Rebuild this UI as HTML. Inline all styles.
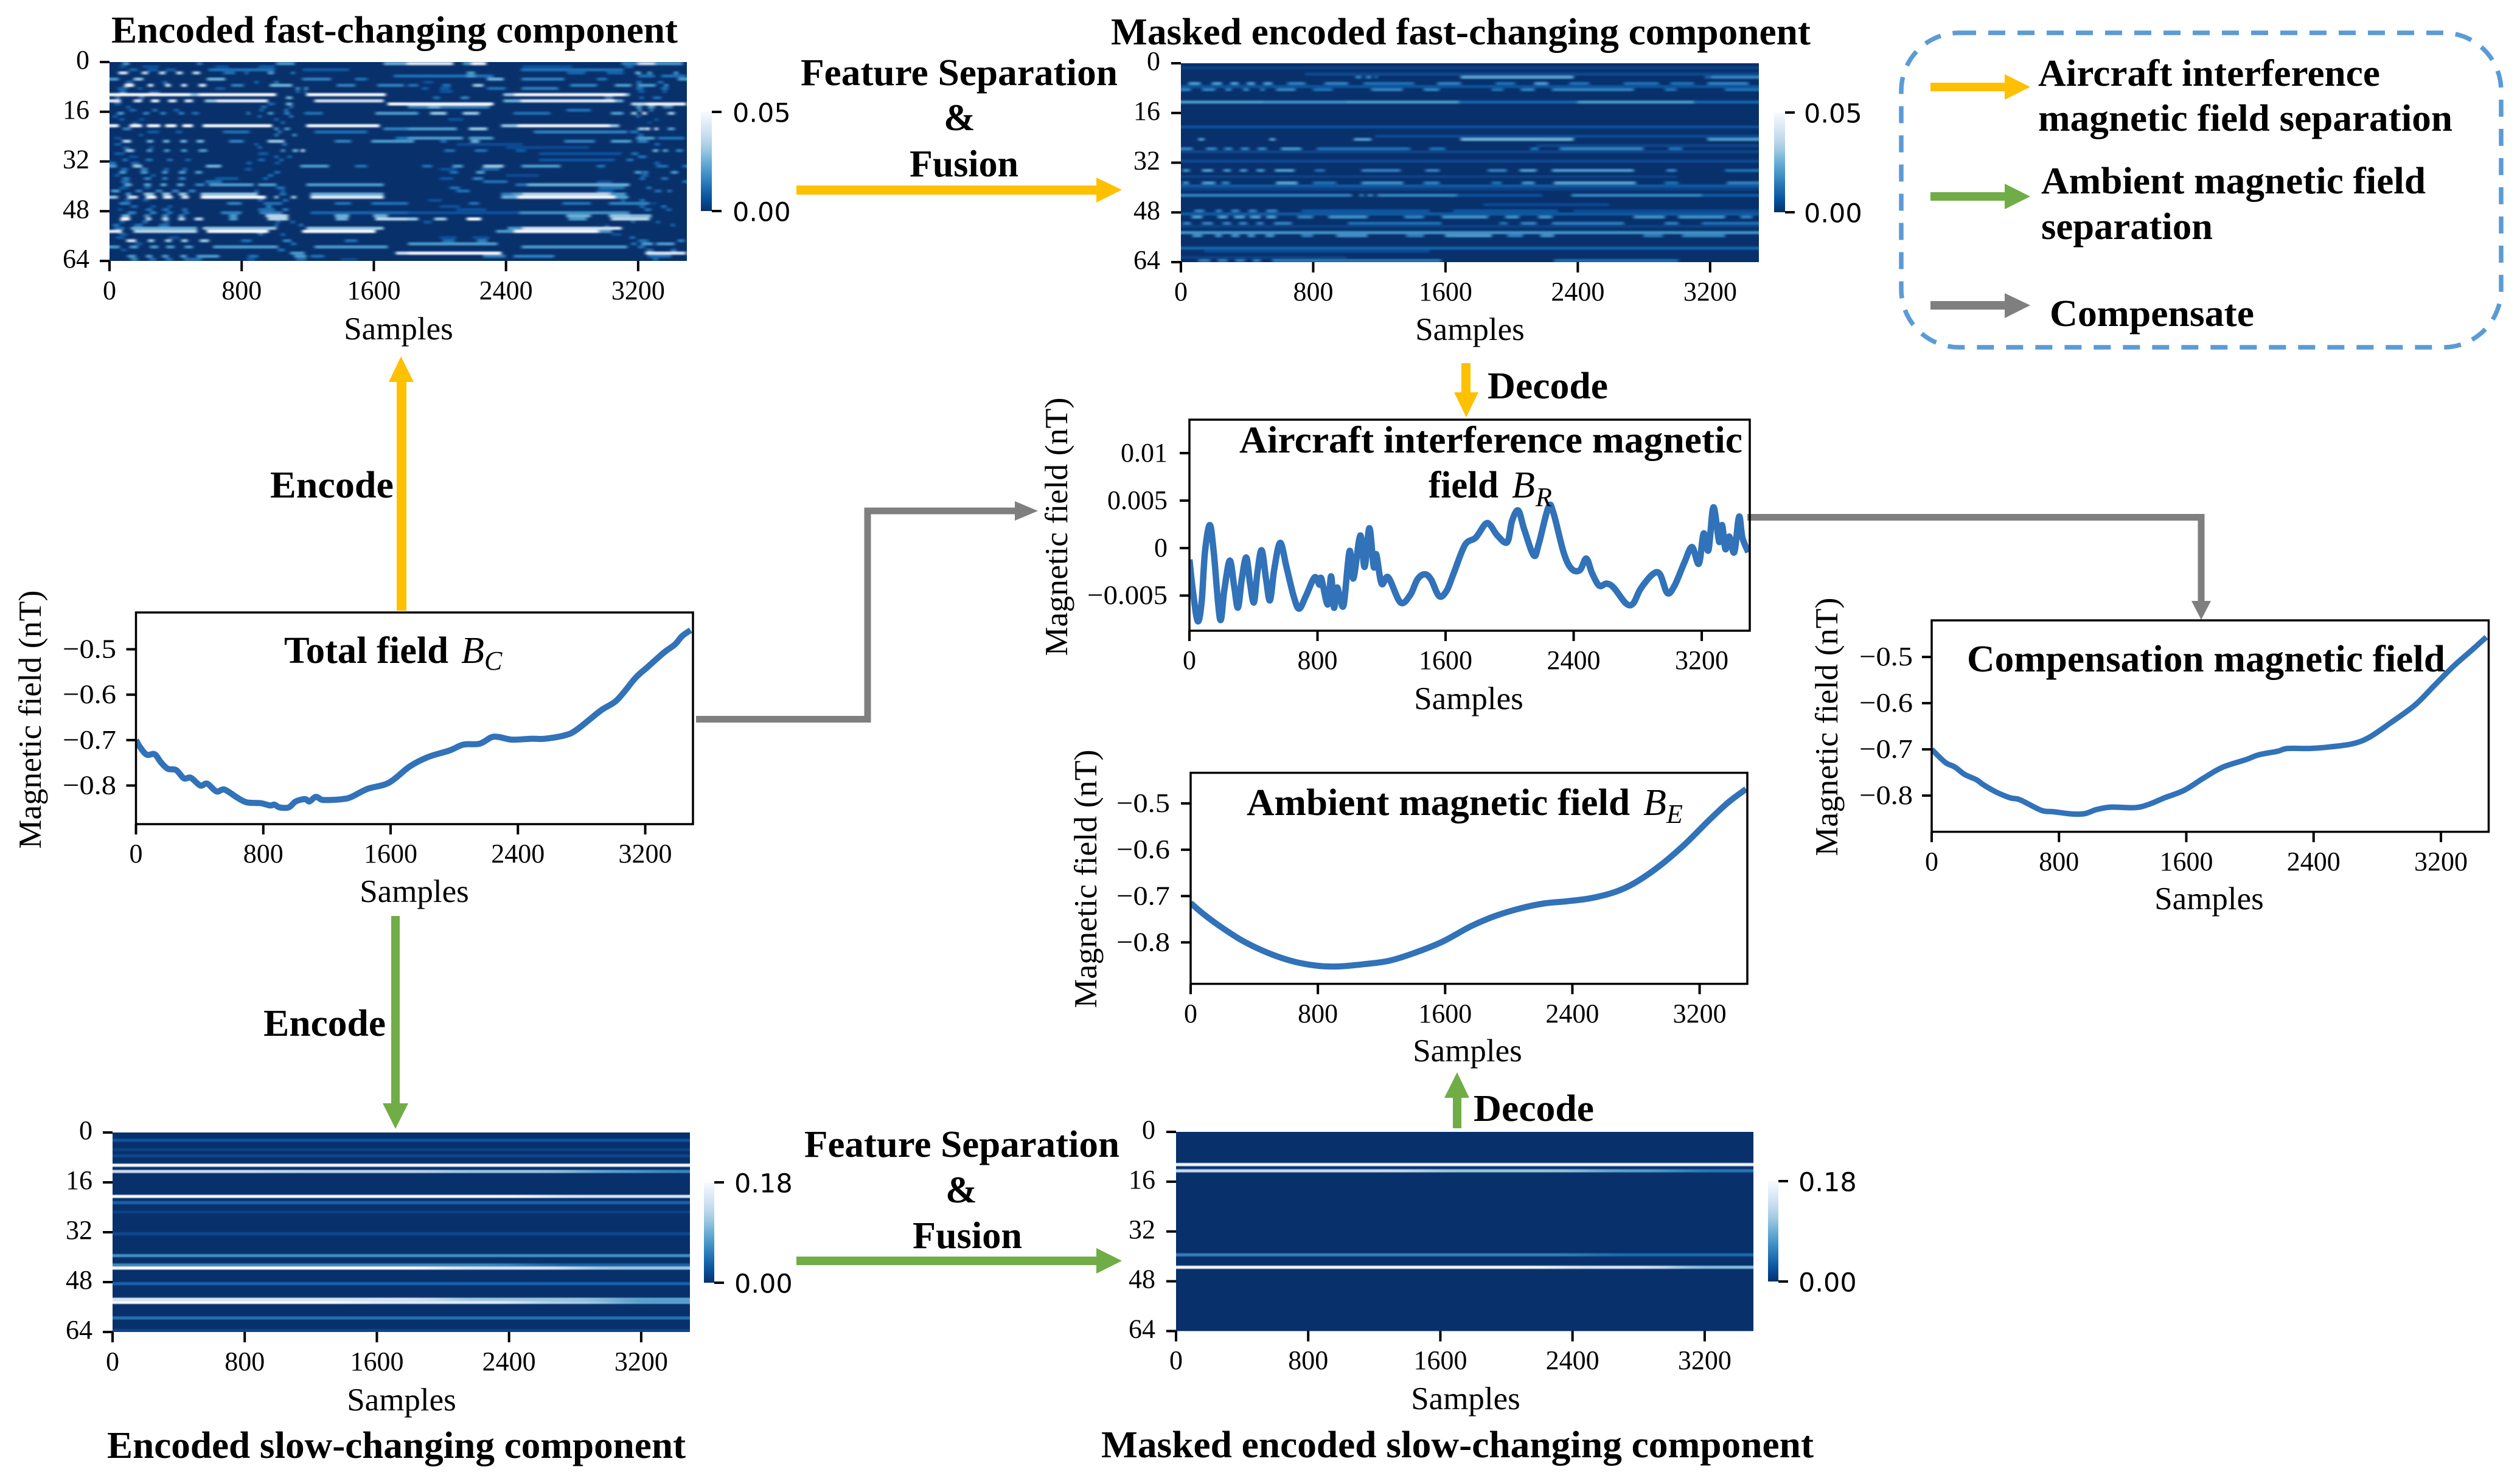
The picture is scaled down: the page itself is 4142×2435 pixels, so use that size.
<!DOCTYPE html>
<html lang="en">
<head>
<meta charset="utf-8">
<title>Magnetic field separation diagram</title>
<style>
html,body{margin:0;padding:0;background:#fff;}
svg{display:block;}
text{font-family:"Liberation Serif",serif;fill:#000;}
.t{font-weight:bold;font-size:62px;}
.lab{font-size:53px;}
.tick{font-size:44px;}
.cb{font-size:43px;font-family:"DejaVu Sans",sans-serif;}
.i{font-style:italic;font-size:62px;}
.sub{font-style:italic;font-size:44px;}
</style>
</head>
<body>
<svg id="fig" xmlns="http://www.w3.org/2000/svg" width="4142" height="2435" viewBox="0 0 4142 2435">
<defs>
<filter id="soft" filterUnits="userSpaceOnUse" x="0" y="0" width="4142" height="2435"><feGaussianBlur stdDeviation="3 1.2"/></filter>
<filter id="softwide" filterUnits="userSpaceOnUse" x="0" y="0" width="4142" height="2435"><feGaussianBlur stdDeviation="34 0.9"/></filter>
</defs>
<rect width="4142" height="2435" fill="#fff"/>

<!-- Headings -->
<text class="t" x="183" y="70" textLength="931" lengthAdjust="spacingAndGlyphs">Encoded fast-changing component</text>
<text class="t" x="1826" y="73" textLength="1150" lengthAdjust="spacingAndGlyphs">Masked encoded fast-changing component</text>
<text class="t" x="176" y="2397" textLength="951" lengthAdjust="spacingAndGlyphs">Encoded slow-changing component</text>
<text class="t" x="1810" y="2396" textLength="1171" lengthAdjust="spacingAndGlyphs">Masked encoded slow-changing component</text>

<!-- Process labels -->
<text class="t" x="1316" y="140" textLength="521" lengthAdjust="spacingAndGlyphs">Feature Separation</text>
<text class="t" x="1577" y="214" text-anchor="middle">&amp;</text>
<text class="t" x="1495" y="290" textLength="179" lengthAdjust="spacingAndGlyphs">Fusion</text>
<text class="t" x="1322" y="1902" textLength="518" lengthAdjust="spacingAndGlyphs">Feature Separation</text>
<text class="t" x="1580" y="1977" text-anchor="middle">&amp;</text>
<text class="t" x="1500" y="2052" textLength="180" lengthAdjust="spacingAndGlyphs">Fusion</text>
<text class="t" x="444" y="818" textLength="203" lengthAdjust="spacingAndGlyphs">Encode</text>
<text class="t" x="433" y="1703" textLength="201" lengthAdjust="spacingAndGlyphs">Encode</text>
<text class="t" x="2445" y="655" textLength="198" lengthAdjust="spacingAndGlyphs">Decode</text>
<text class="t" x="2422" y="1843" textLength="198" lengthAdjust="spacingAndGlyphs">Decode</text>

<!-- Flow arrows -->
<polygon fill="#FFC000" points="1309,305 1802,305 1802,292 1844,312 1802,333 1802,320 1309,320"/>
<polygon fill="#70AD47" points="1309,2066 1802,2066 1802,2052 1844,2073 1802,2094 1802,2080 1309,2080"/>
<polygon fill="#FFC000" points="652,1004 652,628 639,628 659,586 680,628 668,628 668,1004"/>
<polygon fill="#70AD47" points="643,1506 657,1506 657,1814 671,1814 650,1856 629,1814 643,1814"/>
<polygon fill="#FFC000" points="2402,597 2417,597 2417,645 2430,645 2410,686 2390,645 2402,645"/>
<polygon fill="#70AD47" points="2388,1855 2388,1805 2374,1805 2395,1763 2415,1805 2402,1805 2402,1855"/>
<polyline fill="none" stroke="#7F7F7F" stroke-width="11" points="1144,1182.5 1426,1182.5 1426,840 1670,840"/>
<polygon fill="#7F7F7F" points="1668,824 1706,840 1668,856"/>
<polyline fill="none" stroke="#7F7F7F" stroke-width="11" points="2872,850.5 3618,850.5 3618,990"/>
<polygon fill="#7F7F7F" points="3602,988 3634,988 3618,1019"/>

<!-- Legend -->
<rect x="3125" y="54" width="986" height="517" rx="95" ry="95" fill="none" stroke="#5B9BD5" stroke-width="7.5" stroke-dasharray="28 20"/>
<polygon fill="#FFC000" points="3173,136 3295,136 3295,122 3337,143 3295,164 3295,150 3173,150"/>
<polygon fill="#70AD47" points="3173,316 3295,316 3295,302 3337,323 3295,344 3295,330 3173,330"/>
<polygon fill="#7F7F7F" points="3173,495 3295,495 3295,482 3337,502 3295,523 3295,509 3173,509"/>
<text class="t" x="3350" y="141" textLength="562" lengthAdjust="spacingAndGlyphs">Aircraft interference</text>
<text class="t" x="3350" y="215" textLength="681" lengthAdjust="spacingAndGlyphs">magnetic field separation</text>
<text class="t" x="3355" y="318" textLength="632" lengthAdjust="spacingAndGlyphs">Ambient magnetic field</text>
<text class="t" x="3355" y="393" textLength="282" lengthAdjust="spacingAndGlyphs">separation</text>
<text class="t" x="3369" y="536" textLength="336" lengthAdjust="spacingAndGlyphs">Compensate</text>

<g id="charts"></g>

<!-- Titles inside line panels -->
<text class="t" x="467" y="1090" textLength="270" lengthAdjust="spacingAndGlyphs">Total field</text>
<text class="i" x="758" y="1090">B</text>
<text class="sub" x="796" y="1101">C</text>
<text class="t" x="2037" y="744" textLength="827" lengthAdjust="spacingAndGlyphs">Aircraft interference magnetic</text>
<text class="t" x="2348" y="818" textLength="115" lengthAdjust="spacingAndGlyphs">field</text>
<text class="i" x="2485" y="818">B</text>
<text class="sub" x="2524" y="832">R</text>
<text class="t" x="2049" y="1340" textLength="630" lengthAdjust="spacingAndGlyphs">Ambient magnetic field</text>
<text class="i" x="2701" y="1340">B</text>
<text class="sub" x="2739" y="1353">E</text>
<text class="t" x="3233" y="1104" textLength="786" lengthAdjust="spacingAndGlyphs">Compensation magnetic field</text>
</svg>

<script>
// ---- axis data ----
const sampleTicks = [0, 800, 1600, 2400, 3200];
const rowTicks = [0, 16, 32, 48, 64];
const fieldTicks = [-0.5, -0.6, -0.7, -0.8];
const fieldTickLabels = ['\u22120.5', '\u22120.6', '\u22120.7', '\u22120.8'];
const aircraftTicks = [0.01, 0.005, 0, -0.005];
const aircraftTickLabels = ['0.01', '0.005', '0', '\u22120.005'];
const fastRange = [0, 0.05];
const fastRangeLabels = ['0.00', '0.05'];
const slowRange = [0, 0.18];
const slowRangeLabels = ['0.00', '0.18'];
const bluesReversed = ['#08306b', '#08519c', '#2171b5', '#4292c6', '#6baed6', '#9ecae1', '#c6dbef', '#deebf7', '#f7fbff'];

// ---- line series ----
const totalSamples = [0,23,67,117,155,199,252,301,345,404,448,506,556,638,696,784,843,870,901,960,1004,1062,1090,1129,1165,1194,1296,1354,1457,1589,1720,1837,1969,2057,2159,2232,2276,2364,2481,2569,2700,2774,2920,3022,3139,3212,3285,3329,3388,3432,3485];
const totalValues = [-0.700,-0.714,-0.732,-0.731,-0.748,-0.763,-0.766,-0.784,-0.783,-0.800,-0.796,-0.813,-0.809,-0.827,-0.837,-0.839,-0.844,-0.842,-0.848,-0.848,-0.835,-0.830,-0.835,-0.825,-0.831,-0.832,-0.830,-0.825,-0.807,-0.794,-0.758,-0.737,-0.723,-0.710,-0.708,-0.694,-0.693,-0.699,-0.697,-0.697,-0.689,-0.676,-0.635,-0.612,-0.563,-0.540,-0.517,-0.504,-0.489,-0.471,-0.458];

const aircraftSamples = [0,24,52,76,97,127,152,191,218,252,279,303,327,355,379,403,424,451,479,503,530,567,606,651,685,727,782,812,824,864,885,903,921,939,964,1000,1024,1067,1094,1124,1151,1167,1200,1242,1318,1379,1424,1470,1509,1560,1606,1651,1721,1788,1848,1879,1924,1985,2015,2054,2091,2151,2182,2242,2273,2339,2388,2439,2479,2515,2560,2606,2651,2727,2772,2818,2894,2939,2985,3030,3091,3139,3182,3212,3242,3273,3309,3327,3348,3372,3403,3433,3454,3491];
const aircraftValues = [-0.00121,-0.00484,-0.0077,-0.00572,-0.00044,0.00242,-0.00044,-0.00748,-0.0044,-0.00132,-0.00396,-0.00627,-0.0033,-0.00099,-0.00374,-0.00572,-0.00264,-0.00022,-0.0033,-0.0055,-0.0022,0.00055,-0.00198,-0.00506,-0.00638,-0.00506,-0.00308,-0.00385,-0.00319,-0.00594,-0.00297,-0.00627,-0.00418,-0.00506,-0.00594,-0.00033,-0.00319,0.00132,-0.00198,0.00209,-0.00198,-0.00066,-0.00374,-0.00308,-0.00572,-0.00495,-0.0033,-0.00275,-0.0033,-0.00506,-0.00451,-0.00264,0.00033,0.0011,0.00253,0.00242,0.00132,0.00062,0.00286,0.00396,0.00198,-0.00077,0.00044,0.00429,0.00374,-0.00055,-0.0022,-0.00231,-0.0011,-0.00264,-0.00396,-0.00374,-0.00418,-0.00583,-0.00583,-0.00429,-0.00275,-0.00275,-0.00473,-0.00396,-0.00154,0.00011,-0.00165,0.00154,-0.00022,0.00429,0.00066,0.00242,-0.00011,0.00121,-0.00044,0.0033,0.0011,-0.00044];

const ambientSamples = [0,85,192,329,482,634,787,924,1092,1244,1397,1580,1763,1915,2068,2220,2373,2525,2678,2800,2952,3105,3257,3379,3492];
const ambientValues = [-0.715,-0.740,-0.767,-0.797,-0.822,-0.840,-0.850,-0.852,-0.847,-0.840,-0.824,-0.799,-0.765,-0.743,-0.727,-0.716,-0.711,-0.704,-0.690,-0.670,-0.634,-0.589,-0.537,-0.498,-0.469];

const compensationSamples = [0,85,145,206,282,327,403,494,554,690,766,887,963,1039,1129,1281,1372,1462,1584,1705,1826,1977,2053,2174,2235,2371,2492,2643,2749,2886,3037,3158,3279,3385,3485];
const compensationValues = [-0.700,-0.728,-0.738,-0.754,-0.766,-0.777,-0.792,-0.805,-0.809,-0.832,-0.835,-0.840,-0.839,-0.830,-0.825,-0.826,-0.818,-0.805,-0.789,-0.763,-0.739,-0.722,-0.712,-0.704,-0.698,-0.698,-0.695,-0.688,-0.674,-0.642,-0.604,-0.562,-0.520,-0.488,-0.457];

// ---- heatmap data: one list per row of [startSample, endSample, value] runs ----
const fastRuns = [
[[80,120,.02],[530,560,.015],[1010,1120,.02],[1660,1800,.025],[1800,2080,.045],[2140,2190,.02],[2190,2280,.05],[3100,3200,.015],[3200,3300,.04],[3300,3470,.02]],
[[60,100,.006],[200,300,.006],[640,720,.006],[900,1000,.008],[2500,2800,.006],[3120,3170,.01]],
[[120,170,.01],[230,290,.008],[340,400,.008],[600,1000,.012],[1170,1450,.008],[2490,3110,.012]],
[[55,110,.04],[196,233,.035],[301,338,.035],[405,442,.035],[504,547,.035],[690,760,.012],[820,840,.012],[958,995,.02],[1100,1120,.015],[2163,2212,.02],[2770,2880,.01],[3010,3110,.01],[3184,3214,.025],[3257,3282,.02],[3417,3442,.02]],
[[1720,1807,.012],[1807,2323,.012],[2163,2212,.02],[3200,3300,.012],[3340,3490,.012]],
[[0,55,.02],[147,203,.03],[590,700,.025],[1167,1340,.015],[1487,1560,.012],[2286,2385,.025],[2495,2753,.015],[2950,3011,.012],[3440,3495,.02]],
[[100,140,.012],[320,350,.01],[880,900,.012],[1000,1020,.015],[1900,1960,.006],[3190,3220,.012],[3320,3350,.012]],
[[92,147,.05],[233,264,.04],[338,369,.04],[436,467,.04],[541,584,.04],[737,811,.015],[971,1106,.025],[1376,1487,.015],[1622,1782,.015],[1807,1868,.012],[2016,2065,.012],[2200,2262,.03],[2790,2950,.015],[3060,3159,.02],[3196,3306,.02],[3360,3380,.02]],
[[50,110,.01],[170,200,.008],[640,700,.008],[1130,1150,.02],[1180,1200,.02],[1890,1930,.008],[2000,2060,.008],[2286,2397,.012],[2495,2716,.014],[3190,3230,.012],[3340,3380,.012]],
[[60,100,.012],[240,300,.006],[1130,1150,.012],[1180,1190,.015],[2000,2080,.006],[3200,3240,.008],[3350,3370,.01]],
[[0,490,.05],[490,540,.03],[540,1008,.05],[1192,1671,.05],[2385,2450,.03],[2450,3120,.05],[3120,3147,.03]],
[[40,60,.015],[180,210,.012],[1070,1106,.025],[1960,2000,.012],[2127,2176,.015],[3000,3048,.012],[3210,3230,.012],[3290,3340,.012]],
[[0,67,.045],[147,196,.04],[252,301,.045],[356,405,.04],[455,504,.04],[577,650,.03],[650,958,.045],[1241,1659,.04],[2385,2490,.025],[2490,3060,.045],[3060,3110,.025]],
[[30,70,.008],[960,1000,.01],[1069,1106,.025],[1684,1807,.05],[1807,2323,.05],[3159,3250,.035],[3250,3490,.048]],
[[100,130,.008],[920,950,.012],[1090,1110,.012],[1807,2300,.015],[1930,2000,.025],[3190,3220,.02],[3260,3300,.02],[3350,3410,.015]],
[[120,160,.01],[260,290,.012],[390,420,.01],[910,930,.012],[1060,1080,.015],[2766,2913,.012],[3200,3220,.02],[3270,3290,.015]],
[[49,86,.02],[205,240,.015],[310,340,.015],[420,450,.015],[500,540,.012],[830,850,.015],[960,990,.02],[1060,1090,.015],[1180,1290,.012],[1610,1807,.02],[1807,1868,.02],[1942,2040,.03],[2139,2237,.03],[2446,2667,.012],[3036,3110,.02],[3160,3190,.03],[3226,3250,.04],[3380,3420,.03]],
[[20,50,.008],[900,920,.012],[1090,1110,.015],[3190,3210,.012]],
[[60,90,.008],[180,210,.006],[1000,1020,.012],[2050,2140,.006],[3300,3320,.008]],
[[140,170,.006],[1040,1060,.012],[3260,3280,.006]],
[[0,55,.05],[123,196,.05],[227,307,.05],[338,405,.05],[442,504,.05],[565,983,.05],[1192,1634,.05],[2372,2470,.03],[2470,3030,.05],[3030,3085,.03]],
[[80,130,.015],[1000,1020,.02],[1060,1090,.02],[1659,1807,.015],[1807,2102,.02],[2176,2286,.03],[3200,3240,.03],[3245,3270,.04],[3300,3320,.04],[3380,3420,.02]],
[[230,300,.008],[400,440,.008],[688,848,.012],[1020,1040,.015],[1241,1560,.012],[2569,3134,.015],[3150,3200,.012]],
[[180,200,.01],[1000,1020,.015],[1110,1130,.02],[3200,3230,.012]],
[[30,70,.006],[1733,1807,.012],[1807,2139,.02],[2176,2323,.02],[3190,3300,.02],[3320,3480,.012]],
[[80,129,.035],[227,264,.025],[326,362,.025],[430,467,.025],[528,571,.025],[725,811,.015],[958,1057,.03],[1364,1462,.015],[1585,1807,.02],[1807,1843,.02],[2004,2040,.012],[2188,2237,.025],[2753,2938,.015],[3036,3159,.02],[3196,3260,.015]],
[[30,70,.008],[880,900,.01],[1050,1070,.015],[2100,2500,.005],[3300,3330,.01]],
[[80,120,.008],[240,270,.006],[900,920,.012],[2400,2900,.005]],
[[98,147,.03],[227,257,.02],[332,362,.02],[436,467,.02],[541,590,.02],[1040,1060,.02],[1110,1140,.025],[1160,1180,.04],[2028,2090,.012],[2212,2286,.012],[2460,2520,.008],[3290,3320,.025],[3350,3380,.02],[3430,3470,.015]],
[[30,90,.008],[900,960,.008],[2600,3100,.006],[3160,3200,.012]],
[[120,170,.006],[1000,1020,.012],[1080,1100,.012],[3200,3250,.012]],
[[80,110,.012],[220,260,.012],[350,380,.012],[460,490,.01],[900,940,.01],[1030,1050,.012],[2600,3060,.007],[3130,3170,.012]],
[[0,40,.012],[130,180,.01],[830,860,.01],[1000,1030,.008],[3300,3330,.01]],
[[0,43,.02],[141,196,.03],[584,676,.025],[1155,1327,.02],[1487,1560,.012],[1893,1954,.012],[2077,2139,.02],[2262,2385,.03],[2495,2729,.02],[2950,3000,.012],[3310,3380,.012],[3470,3495,.012]],
[[70,110,.012],[190,230,.015],[330,360,.01],[440,470,.01],[820,860,.008],[2000,2100,.006],[2250,2360,.01]],
[[60,100,.02],[190,230,.02],[320,350,.02],[420,460,.02],[520,560,.02],[1000,1030,.012],[2060,2110,.012],[2220,2270,.02],[3180,3220,.02],[3230,3260,.015],[3400,3440,.02]],
[[30,60,.008],[250,280,.008],[960,990,.012],[2400,2600,.005],[3220,3260,.01]],
[[80,120,.015],[210,250,.015],[320,350,.015],[420,460,.015],[640,780,.008],[930,960,.01],[2000,2080,.007],[2200,2260,.015],[3210,3240,.012],[3340,3380,.012]],
[[70,120,.012],[580,680,.012],[2262,2409,.012],[2950,3040,.006],[3470,3495,.012]],
[[90,135,.022],[210,250,.022],[310,345,.022],[410,450,.022],[520,575,.015],[602,872,.02],[900,1010,.02],[1192,1659,.02],[2458,2530,.012],[2530,3147,.025]],
[[60,110,.008],[210,250,.008],[1010,1060,.012],[2060,2120,.012],[2960,3120,.012],[3250,3280,.012]],
[[10,61,.02],[160,196,.015],[280,320,.015],[380,420,.015],[480,520,.015],[880,900,.012],[1040,1060,.012],[2100,2180,.012],[2950,3050,.008],[3300,3340,.012],[3380,3400,.015]],
[[100,130,.02],[209,270,.03],[320,370,.03],[420,470,.03],[553,897,.03],[1030,1070,.012],[1217,1659,.025],[2372,2440,.015],[2440,2500,.022],[2500,3030,.036],[3030,3127,.02]],
[[0,50,.03],[110,170,.04],[221,283,.05],[325,381,.045],[436,479,.04],[553,946,.05],[1000,1020,.03],[1100,1130,.03],[1217,1659,.045],[2372,2470,.025],[2470,3060,.05],[3060,3140,.022]],
[[90,130,.008],[200,240,.008],[900,930,.01],[1050,1080,.012],[1930,2010,.006],[3100,3120,.012],[3210,3240,.012]],
[[61,123,.015],[713,799,.015],[934,1045,.012],[1364,1462,.012],[1585,1807,.012],[2176,2237,.012],[2741,2913,.012],[3024,3270,.015],[3290,3310,.006]],
[[130,170,.01],[250,280,.008],[350,380,.008],[950,980,.015],[2000,2120,.006],[3210,3240,.012],[3340,3370,.012]],
[[50,80,.006],[220,260,.012],[320,360,.012],[440,470,.012],[900,1000,.012],[1050,1080,.015],[2100,2280,.006],[3240,3280,.012],[3370,3400,.01]],
[[110,160,.015],[245,283,.015],[344,381,.012],[448,479,.012],[676,799,.015],[909,1045,.015],[1217,1807,.01],[1807,2483,.006],[2483,3147,.018]],
[[74,123,.025],[210,245,.018],[320,355,.018],[420,450,.018],[725,774,.02],[946,1081,.035],[1364,1450,.025],[1598,1684,.025],[2766,2913,.025],[3024,3159,.03],[3159,3280,.028]],
[[67,123,.05],[221,252,.035],[319,356,.035],[418,455,.035],[516,565,.035],[725,774,.02],[958,1081,.035],[1370,1444,.025],[1610,1807,.035],[1807,1868,.03],[1967,2040,.03],[2163,2249,.05],[2778,2889,.02],[3036,3270,.035]],
[[60,90,.008],[200,230,.012],[330,360,.01],[1010,1030,.012],[1100,1120,.012],[1900,1950,.008],[3160,3180,.01],[3310,3330,.012]],
[[20,60,.012],[150,200,.012],[300,360,.012],[1000,1020,.012],[1150,1170,.015],[3000,3020,.006],[3400,3420,.012]],
[[30,90,.012],[130,530,.025],[565,1010,.03],[1192,1659,.03],[2410,2500,.02],[2500,3100,.04]],
[[0,74,.045],[147,530,.035],[590,962,.05],[1167,1610,.05],[2340,2450,.02],[2450,2960,.05],[2960,3040,.02]],
[[60,110,.008],[900,930,.01],[1040,1060,.012],[3040,3100,.006]],
[[40,90,.008],[360,420,.006],[2000,2100,.006],[2200,2300,.006],[3150,3180,.012]],
[[104,160,.04],[233,270,.03],[338,375,.03],[436,473,.03],[547,602,.03],[798,860,.012],[1050,1100,.015],[1425,1500,.012],[2016,2090,.012],[2225,2286,.015],[3200,3260,.012],[3440,3480,.015]],
[[160,200,.008],[1100,1130,.012],[1807,2348,.02],[3159,3190,.012],[3220,3290,.02],[3310,3420,.02]],
[[0,61,.02],[123,172,.02],[246,295,.02],[344,393,.02],[455,504,.02],[627,1020,.02],[1241,1684,.02],[2495,3134,.02],[3200,3240,.012]],
[[70,100,.008],[1020,1060,.012],[3250,3290,.012],[3400,3430,.012]],
[[1094,1180,.02],[1733,1807,.04],[1807,2372,.05],[3245,3490,.042]],
[[110,160,.02],[221,258,.02],[319,356,.02],[430,467,.02],[528,664,.02],[840,900,.012],[1118,1192,.02],[1217,1300,.012],[2262,2397,.015],[2446,2692,.015],[3260,3400,.012]],
[[130,170,.016],[240,280,.012],[340,380,.012],[450,560,.012],[830,880,.008],[1130,1190,.012],[1400,1500,.005],[3290,3320,.012]]
];

const maskedFastRuns = [
[],
[[0,3500,.003]],
[],
[[750,3500,.005]],
[[1058,1090,.016],[1120,1150,.016],[1175,1187,.016],[1692,2374,.022],[3172,3190,.014],[3200,3500,.016]],
[],
[[47,118,.02],[188,247,.02],[301,348,.02],[400,447,.02],[500,552,.02],[646,752,.015],[870,1010,.015],[1105,1410,.012],[1551,1692,.015],[1904,2021,.012],[2138,2220,.02],[2350,2468,.012],[2679,2890,.012],[2961,3102,.012],[3184,3431,.015]],
[[0,3500,.0065]],
[[0,59,.015],[129,207,.015],[270,305,.015],[376,411,.015],[482,505,.015],[576,693,.015],[799,917,.012],[1151,1340,.015],[1469,1563,.015],[1880,1950,.012],[2056,2138,.015],[2244,2738,.015],[2926,2996,.012],[3290,3500,.012]],
[],[],[],
[[0,500,.02],[500,1000,.018],[1000,1680,.02],[1680,2400,.01],[2400,3100,.02],[3100,3500,.01]],
[],[],[],[],[],[],[],
[[0,3500,.006]],
[],[],
[[1175,3500,.005]],
[[106,141,.02],[536,571,.02],[1046,1151,.02],[1692,2374,.025],[3184,3500,.02]],
[],
[[2150,3500,.004]],
[[0,70,.015],[153,216,.015],[263,310,.015],[364,411,.015],[465,517,.015],[606,728,.018],[822,1386,.012],[1504,1598,.012],[2115,2162,.012],[2291,2796,.015],[2949,3031,.012]],
[[0,3500,.004]],
[],[],
[[0,3500,.005]],
[],[],
[[12,52,.018],[129,193,.02],[258,301,.018],[357,400,.018],[458,505,.018],[569,686,.02],[811,870,.012],[1093,1328,.015],[1480,1563,.015],[1856,1969,.015],[2049,2150,.02],[2244,2738,.02],[2937,2996,.015],[3290,3500,.012]],
[],
[[0,3000,.003]],
[],
[[12,47,.018],[129,207,.02],[247,294,.015],[576,705,.022],[799,940,.012],[1093,1344,.018],[1469,1563,.015],[1880,1939,.012],[2063,2138,.018],[2256,2750,.022],[2926,3008,.012],[3302,3500,.015]],
[[0,3500,.008]],
[[0,3500,.003]],
[],
[[0,1034,.015],[1081,1105,.015],[1128,1163,.015],[1187,1668,.016],[1668,2186,.006],[2362,3150,.016],[3150,3500,.008]],
[],[],
[[1830,2590,.005]],
[],
[[82,141,.015],[212,247,.015],[306,353,.015],[411,458,.015],[517,583,.015],[729,1504,.007],[1645,2280,.007],[2374,3500,.005]],
[[0,3500,.008]],
[[66,129,.02],[223,282,.02],[322,388,.02],[418,482,.02],[517,576,.02],[705,799,.015],[893,1128,.018],[1351,1469,.015],[1579,1857,.018],[1962,2045,.018],[2162,2244,.018],[2738,2926,.018],[3008,3290,.018],[3384,3455,.015]],
[],
[[12,59,.015],[129,193,.015],[254,301,.015],[352,400,.015],[458,498,.015],[564,670,.015],[1010,1575,.012],[1927,1974,.012],[2056,2150,.015],[2244,2679,.014],[2926,3008,.014],[3150,3500,.012]],
[[0,3500,.003]],
[],
[[0,3500,.0185]],
[[70,129,.018],[207,247,.018],[306,353,.018],[404,447,.018],[512,564,.018],[729,799,.015],[940,1128,.018],[1363,1469,.015],[1598,1880,.02],[1974,2068,.015],[2174,2256,.018],[2797,2914,.014],[3032,3290,.016]],
[],[],[],
[[0,3500,.01]],
[[141,1504,.005]],
[],
[[0,1000,.003]],
[[106,176,.014],[223,282,.014],[329,388,.014],[435,482,.014],[552,1575,.014],[2256,3008,.012]]
];

const slowRuns = [
[],[],
[[0,3500,.025]],
[],[],
[[0,3500,.012]],
[],
[[0,3500,.015]],
[],[],
[[0,3500,.18]],
[],
[[0,1000,.14],[1000,2000,.13],[2000,2800,.11],[2800,3200,.08],[3200,3500,.06]],
[],[],[],[],[],[],[],
[[0,2600,.18],[2600,3500,.15]],
[],
[[0,3500,.035]],
[],[],
[[0,3500,.012]],
[],[],[],[],[],[],
[[0,3500,.018]],
[],[],[],[],[],[],
[[0,3500,.065]],
[],[],
[[0,2500,.06],[2500,3500,.035]],
[[0,2000,.18],[2000,2800,.15],[2800,3500,.11]],
[],[],[],[],
[[0,3500,.035]],
[],[],[],[],
[[0,2000,.15],[2000,3000,.11],[3000,3500,.08]],
[[0,1500,.18],[1500,2500,.16],[2500,3000,.12],[3000,3500,.08]],
[],[],[],[],
[[0,3500,.045]],
[],[],[],
[[0,3500,.015]]
];

const maskedSlowRuns = [
[],[],[],[],[],[],[],[],[],[],
[[0,3500,.18]],
[],
[[0,1500,.14],[1500,2500,.11],[2500,3000,.08],[3000,3500,.05]],
[],[],[],[],[],[],[],[],[],[],[],[],[],[],[],[],[],[],[],[],[],[],[],[],[],[],
[[0,2500,.055],[2500,3500,.04]],
[],[],[],
[[0,2300,.18],[2300,3000,.15],[3000,3500,.1]],
[],[],[],[],[],[],[],[],[],[],[],[],[],[],[],[],[],[],[],[]
];

// ---- drawing helpers ----
const SVGNS = 'http://www.w3.org/2000/svg';
const root = document.getElementById('charts');

function mk(tag, attrs, parent) {
  const n = document.createElementNS(SVGNS, tag);
  for (const k in attrs) n.setAttribute(k, attrs[k]);
  parent.appendChild(n);
  return n;
}
function linear(d0, d1, r0, r1) {
  return function (v) { return r0 + (v - d0) / (d1 - d0) * (r1 - r0); };
}
function hexToRgb(h) {
  return [parseInt(h.slice(1, 3), 16), parseInt(h.slice(3, 5), 16), parseInt(h.slice(5, 7), 16)];
}
function colorAt(t) {
  const c = Math.max(0, Math.min(1, t)) * (bluesReversed.length - 1);
  const i = Math.min(Math.floor(c), bluesReversed.length - 2);
  const a = hexToRgb(bluesReversed[i]);
  const b = hexToRgb(bluesReversed[i + 1]);
  const f = c - i;
  return 'rgb(' + a.map(function (v, j) { return Math.round(v + (b[j] - v) * f); }).join(',') + ')';
}
function smoothPath(px, py) {
  let d = 'M' + px[0].toFixed(1) + ' ' + py[0].toFixed(1);
  for (let i = 0; i < px.length - 1; i++) {
    const p0 = i > 0 ? i - 1 : i;
    const p3 = i + 2 < px.length ? i + 2 : i + 1;
    const c1x = px[i] + (px[i + 1] - px[p0]) / 6;
    const c1y = py[i] + (py[i + 1] - py[p0]) / 6;
    const c2x = px[i + 1] - (px[p3] - px[i]) / 6;
    const c2y = py[i + 1] - (py[p3] - py[i]) / 6;
    d += 'C' + c1x.toFixed(1) + ' ' + c1y.toFixed(1) + ' ' + c2x.toFixed(1) + ' ' + c2y.toFixed(1) + ' ' + px[i + 1].toFixed(1) + ' ' + py[i + 1].toFixed(1);
  }
  return d;
}
function drawXAxis(g, scale, y, labelY, samplesX, samplesY) {
  sampleTicks.forEach(function (t) {
    const tick = mk('line', { x1: scale(t), x2: scale(t), y1: y, y2: y + 17, stroke: '#000', 'stroke-width': 4 }, g);
    
    
    const lab = mk('text', { x: scale(t), y: labelY, 'text-anchor': 'middle', class: 'tick' }, g);
    lab.textContent = String(t);
    
    
  });
  const title = mk('text', { x: samplesX, y: samplesY, 'text-anchor': 'middle', class: 'lab' }, g);
  title.textContent = 'Samples';
  
  
}
function drawYTick(g, xLeft, y, text, right, dy) {
  const tick = mk('line', { x1: xLeft - 16, x2: xLeft, y1: y, y2: y, stroke: '#000', 'stroke-width': 4 }, g);
  
  
  const lab = mk('text', { x: right, y: y + dy, 'text-anchor': 'end', class: 'tick' }, g);
  lab.textContent = text;
  
  
  if (text.charAt(0) === '\u2212') {
    lab.setAttribute('textLength', lab.getComputedTextLength() + 8);
    lab.setAttribute('lengthAdjust', 'spacingAndGlyphs');
  }
}

function drawHeatmap(name, runs, range, rangeLabels, cfg) {
  const g = mk('g', {}, root);
  
  
  const p = cfg.plot;
  const xs = linear(0, 3495, p.x, p.x + p.w);
  const ys = linear(0, 64, p.y, p.y + p.h);
  const clipId = name + '-clip';
  const clip = mk('clipPath', { id: clipId }, g);
  mk('rect', { x: p.x, y: p.y, width: p.w, height: p.h }, clip);
  const bg = mk('rect', { x: p.x, y: p.y, width: p.w, height: p.h, fill: colorAt(0) }, g);
  
  
  const outer = mk('g', { 'clip-path': 'url(#' + clipId + ')' }, g);
  const cells = mk('g', { filter: 'url(#' + cfg.filter + ')' }, outer);
  const pad = cfg.edgePad;
  runs.forEach(function (row, r) {
    row.forEach(function (run) {
      const x0 = run[0] <= 0 ? xs(run[0]) - pad : xs(run[0]);
      const x1 = run[1] >= 3495 ? xs(run[1]) + pad : xs(run[1]);
      const cell = mk('rect', { x: x0, y: ys(r), width: Math.max(0, x1 - x0), height: ys(r + 1) - ys(r), fill: colorAt(linear(range[0], range[1], 0, 1)(run[2])) }, cells);
      
      
    });
  });
  rowTicks.forEach(function (t) {
    drawYTick(g, p.x, ys(t), String(t), cfg.yRight, 11);
  });
  drawXAxis(g, xs, p.y + p.h, cfg.xBase, cfg.samplesX, cfg.samplesY);

  const cb = cfg.cbar;
  const gradId = name + '-cbar-grad';
  const grad = mk('linearGradient', { id: gradId, x1: 0, y1: 1, x2: 0, y2: 0 }, g);
  bluesReversed.forEach(function (c, i) {
    mk('stop', { offset: i / (bluesReversed.length - 1), 'stop-color': c }, grad);
  });
  const bar = mk('rect', { x: cb.x, y: cb.y, width: cb.w, height: cb.h, fill: 'url(#' + gradId + ')' }, g);
  
  
  const cs = linear(range[0], range[1], cb.y + cb.h, cb.y);
  range.forEach(function (v, i) {
    const tick = mk('line', { x1: cb.x + cb.w, x2: cb.x + cb.w + 16, y1: cs(v), y2: cs(v), stroke: '#000', 'stroke-width': 4 }, g);
    
    
    const lab = mk('text', { x: cfg.cbLabelX, y: cs(v) + 16.5, class: 'cb' }, g);
    lab.textContent = rangeLabels[i];
    
    
  });
}

function drawLinePanel(name, samples, values, ticks, tickLabels, cfg) {
  const g = mk('g', {}, root);
  
  
  const p = cfg.plot;
  const xs = linear(0, 3500, p.x, p.x + p.w);
  const ys = linear(cfg.yTop, cfg.yBottom, p.y, p.y + p.h);
  const clipId = name + '-clip';
  const clip = mk('clipPath', { id: clipId }, g);
  mk('rect', { x: p.x, y: p.y, width: p.w, height: p.h }, clip);
  const line = mk('path', { d: smoothPath(samples.map(xs), values.map(ys)), fill: 'none', stroke: '#3172b9', 'stroke-width': cfg.lw, 'stroke-linejoin': 'round', 'clip-path': 'url(#' + clipId + ')' }, g);
  
  
  const frame = mk('rect', { x: p.x, y: p.y, width: p.w, height: p.h, fill: 'none', stroke: '#000', 'stroke-width': 3.5 }, g);
  
  
  ticks.forEach(function (t, i) {
    drawYTick(g, p.x, ys(t), tickLabels[i], cfg.yRight, 14);
  });
  drawXAxis(g, xs, p.y + p.h, cfg.xBase, cfg.samplesX, cfg.samplesY);
  const yl = mk('text', { transform: 'translate(' + cfg.yLabelX + ' ' + cfg.yLabelY + ') rotate(-90)', 'text-anchor': 'middle', class: 'lab', textLength: 425, lengthAdjust: 'spacingAndGlyphs' }, g);
  yl.textContent = 'Magnetic field (nT)';
  
  
}

drawHeatmap('heatmap-encoded-fast', fastRuns, fastRange, fastRangeLabels, {
  plot: { x: 180, y: 102, w: 949, h: 327 }, cbar: { x: 1152, y: 184, w: 18, h: 163 }, cbLabelX: 1204, yRight: 147, xBase: 492, samplesX: 655, samplesY: 558, filter: 'soft', edgePad: 12
});
drawHeatmap('heatmap-masked-fast', maskedFastRuns, fastRange, fastRangeLabels, {
  plot: { x: 1941, y: 104, w: 950, h: 327 }, cbar: { x: 2916, y: 185, w: 18, h: 164 }, cbLabelX: 2965, yRight: 1907, xBase: 494, samplesX: 2416, samplesY: 559, filter: 'soft', edgePad: 12
});
drawHeatmap('heatmap-encoded-slow', slowRuns, slowRange, slowRangeLabels, {
  plot: { x: 185, y: 1862, w: 949, h: 328 }, cbar: { x: 1157, y: 1944, w: 17, h: 165 }, cbLabelX: 1207, yRight: 152, xBase: 2253, samplesX: 660, samplesY: 2319, filter: 'softwide', edgePad: 170
});
drawHeatmap('heatmap-masked-slow', maskedSlowRuns, slowRange, slowRangeLabels, {
  plot: { x: 1933, y: 1861, w: 949, h: 327.5 }, cbar: { x: 2906, y: 1942, w: 17, h: 165 }, cbLabelX: 2956, yRight: 1899, xBase: 2251, samplesX: 2409, samplesY: 2317, filter: 'softwide', edgePad: 170
});
drawLinePanel('panel-total-field', totalSamples, totalValues, fieldTicks, fieldTickLabels, {
  plot: { x: 223.5, y: 1007, w: 915.5, h: 348 }, yTop: -0.419, yBottom: -0.885, lw: 10, yRight: 191, xBase: 1418, samplesX: 681, samplesY: 1483, yLabelX: 67, yLabelY: 1183
});
drawLinePanel('panel-aircraft-field', aircraftSamples, aircraftValues, aircraftTicks, aircraftTickLabels, {
  plot: { x: 1955, y: 690, w: 921, h: 347 }, yTop: 0.01352, yBottom: -0.0087, lw: 10.5, yRight: 1919, xBase: 1100, samplesX: 2414, samplesY: 1166, yLabelX: 1754, yLabelY: 866
});
drawLinePanel('panel-ambient-field', ambientSamples, ambientValues, fieldTicks, fieldTickLabels, {
  plot: { x: 1957, y: 1270.6, w: 915, h: 347 }, yTop: -0.4339, yBottom: -0.8895, lw: 10, yRight: 1923, xBase: 1681, samplesX: 2412, samplesY: 1745, yLabelX: 1802, yLabelY: 1445
});
drawLinePanel('panel-compensation-field', compensationSamples, compensationValues, fieldTicks, fieldTickLabels, {
  plot: { x: 3175, y: 1020, w: 915.5, h: 347.6 }, yTop: -0.4208, yBottom: -0.8784, lw: 9, yRight: 3144, xBase: 1431, samplesX: 3631, samplesY: 1495, yLabelX: 3020, yLabelY: 1195
});
</script>
</body>
</html>
